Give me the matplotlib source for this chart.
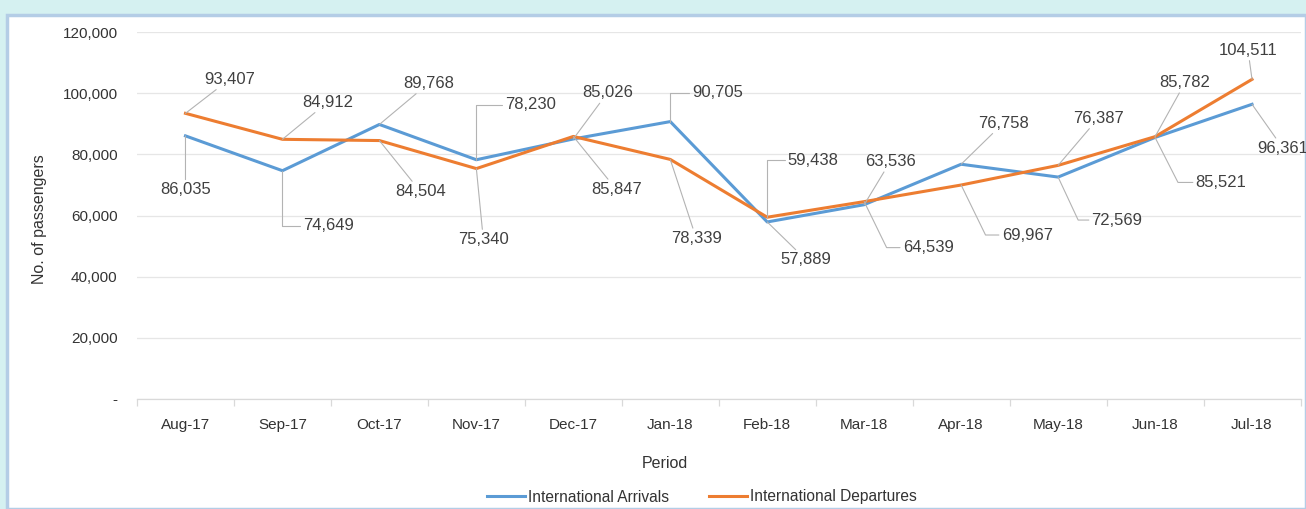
import matplotlib
matplotlib.use("Agg")
import matplotlib.pyplot as plt
from matplotlib.patches import Rectangle
from matplotlib.ticker import FuncFormatter, FixedLocator

plt.rcParams['font.family'] = ['Liberation Sans', 'DejaVu Sans']

periods = ["Aug-17", "Sep-17", "Oct-17", "Nov-17", "Dec-17", "Jan-18",
           "Feb-18", "Mar-18", "Apr-18", "May-18", "Jun-18", "Jul-18"]
arrivals = [86035, 74649, 89768, 78230, 85026, 90705,
            57889, 63536, 76758, 72569, 85521, 96361]
departures = [93407, 84912, 84504, 75340, 85847, 78339,
              59438, 64539, 69967, 76387, 85782, 104511]
yticks = [0, 20000, 40000, 60000, 80000, 100000, 120000]

# label offsets in pixels (dx right, dy down) -- layout only
arr_off = [(0, 54), (46, 55), (49, -41), (54, -55), (34, -46), (47, -29),
           (39, 38), (26, -43), (42, -41), (59, 43), (66, 45), (31, 44)]
dep_off = [(44, -34), (45, -37), (41, 51), (7, 71), (43, 53), (26, 79),
           (46, -57), (64, 46), (66, 50), (40, -47), (30, -54), (-4, -29)]
# leader style: None = straight, number = elbow angle at the point
arr_leader = [None, 90, None, 90, None, 90, None, None, None, -65, -63, None]
dep_leader = [None, None, None, None, None, None, 90, -64, -64, None, None, None]

W, H = 1306, 509
fig = plt.figure(figsize=(W / 100, H / 100), dpi=100)
fig.patch.set_facecolor('#d5f1f1')
panel = Rectangle((7 / W, 0), 1 - 7 / W, 1 - 15 / H, transform=fig.transFigure,
                  facecolor='white', edgecolor='#b4cde6', lw=2.5, zorder=-10)
fig.add_artist(panel)

ax = fig.add_axes([137 / W, 1 - 399 / H, (1300.5 - 137) / W, (399 - 32) / H])
ax.set_facecolor('none')
ax.set_zorder(1)

blue = '#5b9bd5'
orange = '#ed7d31'
x = list(range(len(periods)))
ax.plot(x, arrivals, color=blue, lw=2.2, label='International Arrivals', zorder=3,
        solid_joinstyle='round')
ax.plot(x, departures, color=orange, lw=2.2, label='International Departures', zorder=4,
        solid_joinstyle='round')

ax.set_xlim(-0.5, len(periods) - 0.5)
ax.set_ylim(0, 120000)
ax.set_yticks(yticks)
ax.yaxis.set_major_formatter(FuncFormatter(lambda v, p: '-' if v == 0 else f'{int(v):,}'))
ax.set_xticks(x)
ax.set_xticklabels(periods)
ax.xaxis.set_minor_locator(FixedLocator([i - 0.5 for i in range(len(periods) + 1)]))

ax.grid(axis='y', color='#e6e6e6', lw=0.9)
ax.set_axisbelow(True)
for s in ['top', 'right', 'left']:
    ax.spines[s].set_visible(False)
ax.spines['bottom'].set_color('#d9d9d9')
ax.spines['bottom'].set_linewidth(0.9)

ax.tick_params(axis='y', length=0, pad=14, labelsize=11, labelcolor='#333333')
ax.tick_params(axis='x', which='major', length=0, pad=14, labelsize=11, labelcolor='#333333')
ax.tick_params(axis='x', which='minor', length=5, color='#d9d9d9', width=0.9)

ax.set_ylabel('No. of passengers', fontsize=11.5, color='#333333')
ax.yaxis.set_label_coords(-0.077, 0.49)
ax.set_xlabel('Period', fontsize=11.5, color='#333333')
ax.xaxis.set_label_coords(0.454, -0.155)


def label(series, offs, leaders):
    for i, (v, (dx, dy), ld) in enumerate(zip(series, offs, leaders)):
        if ld is None:
            ap = dict(arrowstyle='-', color='#b3b3b3', lw=0.8, shrinkA=0, shrinkB=0)
        else:
            ap = dict(arrowstyle='-', color='#b3b3b3', lw=0.8, shrinkA=0, shrinkB=0,
                      relpos=(0, 0.5),
                      connectionstyle=f'angle,angleA=0,angleB={ld},rad=0')
        ax.annotate(f'{v:,}', xy=(i, v), xytext=(dx, -dy), textcoords='offset pixels',
                    ha='center', va='center', fontsize=12, color='#404040',
                    arrowprops=ap, zorder=5, annotation_clip=False)


label(arrivals, arr_off, arr_leader)
label(departures, dep_off, dep_leader)

leg = fig.legend(loc='center', bbox_to_anchor=(702 / W, 1 - 497 / H), ncol=2, frameon=False,
                 fontsize=11.2, handlelength=2.4, columnspacing=2.6, handletextpad=0.2,
                 labelcolor='#333333')
leg.set_zorder(2)

fig.savefig('out.png', dpi=100, facecolor=fig.get_facecolor())
